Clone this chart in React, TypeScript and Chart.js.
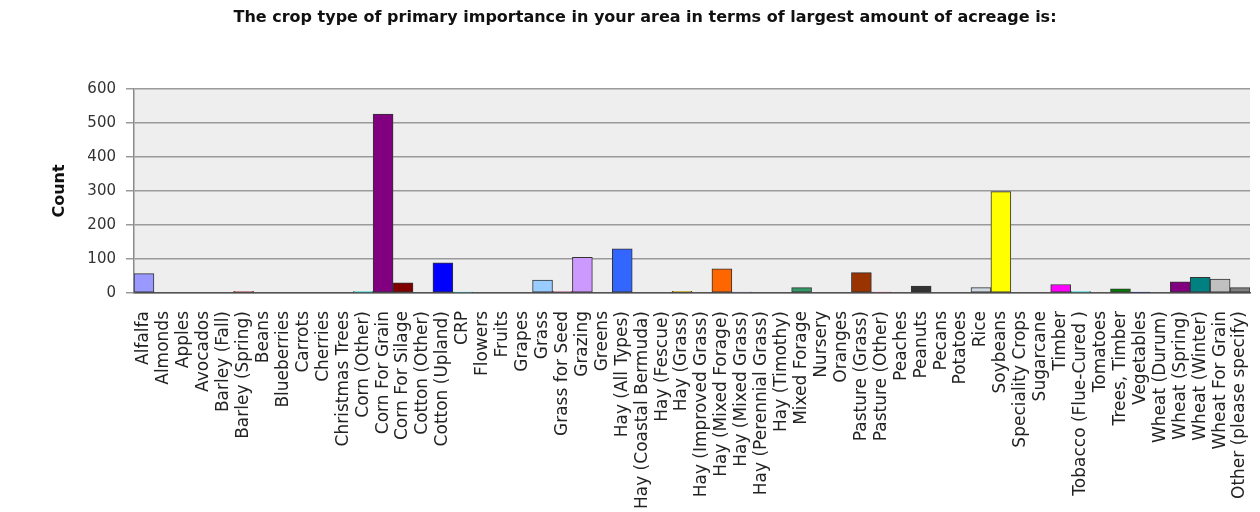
import React, { useEffect, useRef } from "react";
import { Chart, registerables } from "chart.js";

Chart.register(...registerables);

const TITLE = "The crop type of primary importance in your area in terms of largest amount of acreage is:";
const Y_TITLE = "Count";

const categories = [
  "Alfalfa", "Almonds", "Apples", "Avocados", "Barley (Fall)", "Barley (Spring)", "Beans",
  "Blueberries", "Carrots", "Cherries", "Christmas Trees", "Corn (Other)", "Corn For Grain",
  "Corn For Silage", "Cotton (Other)", "Cotton (Upland)", "CRP", "Flowers", "Fruits", "Grapes",
  "Grass", "Grass for Seed", "Grazing", "Greens", "Hay (All Types)", "Hay (Coastal Bermuda)",
  "Hay (Fescue)", "Hay (Grass)", "Hay (Improved Grass)", "Hay (Mixed Forage)", "Hay (Mixed Grass)",
  "Hay (Perennial Grass)", "Hay (Timothy)", "Mixed Forage", "Nursery", "Oranges", "Pasture (Grass)",
  "Pasture (Other)", "Peaches", "Peanuts", "Pecans", "Potatoes", "Rice", "Soybeans",
  "Speciality Crops", "Sugarcane", "Timber", "Tobacco (Flue-Cured )", "Tomatoes", "Trees, Timber",
  "Vegetables", "Wheat (Durum)", "Wheat (Spring)", "Wheat (Winter)", "Wheat For Grain",
  "Other (please specify)",
];

const counts = [
  57, 0, 0, 0, 0, 5, 0,
  0, 0, 0, 0, 4, 526,
  30, 0, 89, 3, 0, 0, 0,
  38, 5, 105, 0, 130, 0,
  0, 5, 0, 71, 3,
  0, 0, 16, 0, 0, 60,
  3, 0, 20, 0, 0, 16, 298,
  0, 0, 25, 4, 0, 12,
  3, 0, 33, 46, 41,
  16,
];

const barColors = [
  "#9999FF", "#993366", "#FFFFCC", "#CCFFFF", "#660066", "#FF8080", "#0066CC",
  "#CCCCFF", "#000080", "#FF00FF", "#FFFF00", "#00FFFF", "#800080",
  "#800000", "#008080", "#0000FF", "#00CCCC", "#CCFFFF", "#CCFFCC", "#FFFF99",
  "#99CCFF", "#FF99CC", "#CC99FF", "#FFCC99", "#3366FF", "#33CCCC",
  "#99CC00", "#FFCC00", "#FF9900", "#FF6600", "#666699",
  "#969696", "#003366", "#339966", "#003300", "#333300", "#993300",
  "#993366", "#333399", "#333333", "#000000", "#FFFFFF", "#D0D8E2", "#FFFF00",
  "#FF00FF", "#00FFFF", "#FF00FF", "#00FFFF", "#800000", "#008000",
  "#000080", "#808000", "#800080", "#008080", "#C0C0C0",
  "#808080",
];

const yTicks = [0, 100, 200, 300, 400, 500, 600];

const W = 1260;
const H = 512;
const PAD_LEFT = 40;
const PLOT_LEFT = 134;
const PLOT_RIGHT = 1250;
const PLOT_TOP = 89;
const PLOT_BOTTOM = 293;

const plotBg = {
  id: "plotBg",
  beforeDraw(chart: any) {
    const { ctx, chartArea } = chart;
    ctx.save();
    ctx.fillStyle = "#EEEEEE";
    ctx.fillRect(chartArea.left, chartArea.top, chartArea.right - chartArea.left, chartArea.bottom - chartArea.top);
    ctx.restore();
  },
};

export default function App() {
  const ref = useRef<HTMLCanvasElement | null>(null);

  useEffect(() => {
    if (!ref.current) return;
    const titleFont = 16;
    const titleTop = 8;
    const chart = new Chart(ref.current, {
      type: "bar",
      data: {
        labels: categories,
        datasets: [
          {
            label: Y_TITLE,
            data: counts,
            backgroundColor: barColors,
            borderColor: "#333333",
            borderWidth: 1,
            borderSkipped: false,
            categoryPercentage: 1,
            barPercentage: 1,
          },
        ],
      },
      options: {
        animation: false,
        responsive: false,
        maintainAspectRatio: false,
        layout: { padding: { left: PAD_LEFT, right: W - PLOT_RIGHT, top: 0, bottom: 0 } },
        plugins: {
          legend: { display: false },
          tooltip: { enabled: false },
          title: {
            display: true,
            text: TITLE,
            color: "#111111",
            font: { family: "DejaVu Sans", size: titleFont, weight: "bold", lineHeight: 1.2 },
            padding: { top: titleTop, bottom: PLOT_TOP - titleTop - titleFont * 1.2 },
          },
        },
        scales: {
          x: {
            grid: { display: false, drawTicks: false },
            border: { display: true, color: "#555555", width: 1.5 },
            ticks: {
              autoSkip: false,
              maxRotation: 90,
              minRotation: 90,
              padding: 18,
              color: "#222222",
              font: { family: "DejaVu Sans", size: 17 },
            },
            afterFit(scale: any) {
              scale.height = H - PLOT_BOTTOM;
              scale.paddingLeft = 0;
              scale.paddingRight = 0;
            },
          },
          y: {
            min: 0,
            max: 600,
            afterBuildTicks(scale: any) {
              scale.ticks = yTicks.map((v) => ({ value: v }));
            },
            grid: { color: "#9A9A9A", lineWidth: 1.5, tickLength: 8 },
            border: { display: true, color: "#8A8A8A", width: 1.5 },
            ticks: {
              padding: 10,
              color: "#333333",
              font: { family: "DejaVu Sans", size: 15 },
            },
            title: {
              display: true,
              text: Y_TITLE,
              color: "#111111",
              font: { family: "DejaVu Sans", size: 16, weight: "bold" },
              padding: { top: 10, bottom: 0 },
            },
            afterFit(scale: any) {
              scale.width = PLOT_LEFT - PAD_LEFT;
              scale.paddingTop = 0;
              scale.paddingBottom = 0;
            },
          },
        },
      },
      plugins: [plotBg],
    });
    return () => chart.destroy();
  }, []);

  return (
    <div style={{ position: "fixed", left: 0, top: 0, width: W, height: H, background: "#ffffff" }}>
      <canvas ref={ref} width={W} height={H} style={{ width: W, height: H, display: "block" }} />
    </div>
  );
}
